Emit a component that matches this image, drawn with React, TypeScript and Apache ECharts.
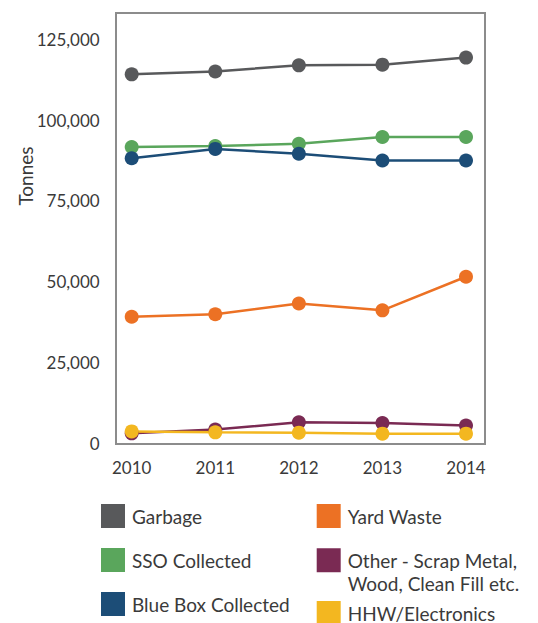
import React, { useEffect, useRef } from "react";
import * as echarts from "echarts";

const years = ["2010", "2011", "2012", "2013", "2014"];
const garbage = [114200, 115100, 117000, 117200, 119400];
const sso = [91700, 92000, 92700, 94800, 94800];
const blueBox = [88200, 91100, 89600, 87500, 87500];
const yardWaste = [39100, 39900, 43200, 41100, 51500];
const other = [3000, 4200, 6400, 6200, 5400];
const hhw = [3600, 3300, 3200, 2900, 2900];
const yTicks = { min: 0, max: 125000, interval: 25000 };

const seriesDefs = [
  { name: "Garbage", data: garbage, color: "#58595b" },
  { name: "SSO Collected", data: sso, color: "#5aa65c" },
  { name: "Blue Box Collected", data: blueBox, color: "#1c4d77" },
  { name: "Yard Waste", data: yardWaste, color: "#ec7124" },
  { name: "Other - Scrap Metal,\nWood, Clean Fill etc.", data: other, color: "#7a2a53" },
  { name: "HHW/Electronics", data: hhw, color: "#f3b720" },
];

const FONT = "Lato, 'Noto Sans', sans-serif";
const TXT = "#3a3a3a";

export default function App() {
  const ref = useRef<HTMLDivElement>(null);
  useEffect(() => {
    if (!ref.current) return;
    const chart = echarts.init(ref.current, undefined, { renderer: "svg" });
    const legendBase = {
      orient: "vertical",
      padding: 0,
      itemWidth: 24,
      itemHeight: 24,
      itemGap: 20,
      icon: "rect",
      selectedMode: false,
      textStyle: { fontFamily: FONT, fontSize: 19, color: TXT, padding: [0, 0, 0, 2] },
    };
    chart.setOption({
      animation: false,
      grid: { left: 131.7, right: 72, top: 39.5, bottom: 180 },
      xAxis: {
        type: "category",
        data: years,
        boundaryGap: false,
        axisLine: { show: false },
        axisTick: { show: false },
        splitLine: { show: false },
        axisLabel: { margin: 16, fontFamily: FONT, fontSize: 17, color: TXT },
      },
      yAxis: {
        type: "value",
        min: yTicks.min,
        max: yTicks.max,
        interval: yTicks.interval,
        axisLine: { show: false },
        axisTick: { show: false },
        splitLine: { show: false },
        axisLabel: {
          margin: 32,
          fontFamily: FONT,
          fontSize: 17,
          color: TXT,
          formatter: (v: number) => v.toLocaleString("en-US"),
        },
      },
      legend: [
        { ...legendBase, left: 101, top: 504, data: seriesDefs.slice(0, 3).map((s) => s.name) },
        { ...legendBase, left: 316.7, top: 504, data: [seriesDefs[3].name] },
        {
          ...legendBase,
          left: 316.7,
          top: 525,
          formatter: (name: string) => "\n" + name,
          textStyle: { ...legendBase.textStyle, lineHeight: 23.5 },
          data: [seriesDefs[4].name],
        },
        { ...legendBase, left: 316.7, top: 601, data: [seriesDefs[5].name] },
      ],
      graphic: [
        {
          type: "rect",
          z: -1,
          shape: { x: 116, y: 13, width: 369, height: 431 },
          style: { fill: "none", stroke: "#8c8c8c", lineWidth: 2 },
        },
        {
          type: "text",
          x: 25,
          y: 176,
          rotation: Math.PI / 2,
          style: {
            text: "Tonnes",
            fontFamily: FONT,
            fontSize: 19,
            fill: TXT,
            align: "center",
            verticalAlign: "middle",
          },
        },
      ],
      series: seriesDefs.map((s) => ({
        type: "line",
        name: s.name,
        data: s.data,
        color: s.color,
        symbol: "circle",
        symbolSize: 14,
        lineStyle: { width: 2.5, color: s.color },
        itemStyle: { color: s.color },
      })),
    });
    return () => chart.dispose();
  }, []);
  return <div ref={ref} style={{ width: 538, height: 623, position: "absolute", left: 0, top: 0 }} />;
}
